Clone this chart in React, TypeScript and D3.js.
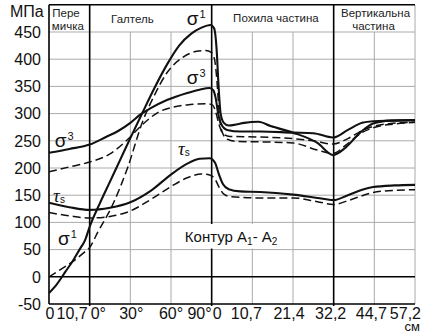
import React from "react";
import * as d3 from "d3";

const W = 425;
const H = 333;

// y axis
const yTickValues = [-50, 0, 50, 100, 150, 200, 250, 300, 350, 400, 450];
const gridYValues = [50, 100, 150, 200, 250, 300, 350, 400, 450];
// x axis: position along contour in grid units (0..9)
const sectionBounds = [1, 4, 7];
const minorGridPositions = [2, 3, 5, 6, 8, 9];
const xTickPositions = [0, 1, 1, 2, 3, 4, 4, 5, 6, 7, 8, 9];
const xTickLabels = ["0", "10,7", "0°", "30°", "60°", "90°", "0", "10,7", "21,4", "32,2", "44,7", "57,2"];
const xTickAnchors = ["middle", "end", "start", "middle", "middle", "end", "start", "middle", "middle", "middle", "middle", "end"];
const xTickShift = [1, -2, 1, 1, 0, 0, 1, -6, -4, -3, -3, 6];

// series [position, MPa]
const sigma1Solid: [number, number][] = [
  [0, -30], [0.2, -13], [0.4, 9], [0.6, 31], [0.75, 50], [0.89, 68], [1.0, 92], [1.25, 135], [1.5, 175],
  [1.75, 215], [2.0, 255], [2.3, 302], [2.6, 348], [2.9, 390], [3.2, 425], [3.5, 447], [3.75, 458],
  [3.97, 463], [4.06, 457], [4.12, 420], [4.17, 350], [4.22, 300], [4.3, 283], [4.42, 278], [4.6, 280],
  [4.8, 283], [5.15, 285], [5.45, 277], [6.0, 265], [6.6, 246], [6.98, 224], [7.3, 238], [7.65, 265],
  [7.97, 282], [8.4, 287], [9, 288],
];
const sigma1Dashed: [number, number][] = [
  [0, 0], [0.3, 14], [0.6, 29], [0.85, 44], [1.0, 54], [1.2, 82], [1.55, 130], [1.94, 202], [2.3, 285],
  [2.6, 335], [2.9, 375], [3.3, 404], [3.6, 414], [3.85, 416], [4.0, 412], [4.07, 400], [4.13, 360],
  [4.18, 305], [4.25, 268], [4.38, 253], [4.6, 249], [5.2, 248], [6.0, 246], [6.6, 233], [6.98, 227],
  [7.33, 244], [7.65, 263], [7.97, 274], [8.5, 281], [9, 284],
];
const sigma3Solid: [number, number][] = [
  [0, 228], [0.5, 235], [1.0, 243], [1.4, 257], [1.7, 268], [2.0, 283], [2.24, 298], [2.5, 310],
  [2.9, 325], [3.4, 338], [3.7, 344], [3.95, 347], [4.04, 343], [4.1, 328], [4.16, 300], [4.24, 280],
  [4.38, 270], [4.7, 267], [5.2, 267], [6.0, 265], [6.5, 264], [6.98, 256], [7.35, 270], [7.7, 283],
  [7.97, 286], [8.4, 287], [9, 288],
];
const sigma3Dashed: [number, number][] = [
  [0, 193], [0.5, 202], [1.0, 211], [1.5, 226], [1.9, 250], [2.3, 280], [2.7, 303], [3.0, 311],
  [3.4, 316], [3.9, 318], [4.02, 316], [4.1, 303], [4.18, 280], [4.28, 263], [4.45, 258], [5.2, 257],
  [6.0, 254], [6.5, 250], [6.98, 244], [7.35, 254], [7.65, 267], [8.0, 277], [8.4, 282], [9, 284],
];
const tauSolid: [number, number][] = [
  [0, 136], [0.5, 128], [1.0, 123], [1.5, 127], [2.0, 137], [2.5, 158], [3.0, 188], [3.4, 208],
  [3.7, 217], [3.95, 218], [4.08, 210], [4.18, 188], [4.28, 170], [4.42, 161], [4.7, 157], [5.2, 156],
  [6.0, 151], [6.6, 145], [7.0, 141], [7.35, 150], [7.7, 160], [7.97, 165], [8.5, 168], [9, 169],
];
const tauDashed: [number, number][] = [
  [0, 118], [0.5, 112], [1.0, 108], [1.5, 111], [2.0, 121], [2.5, 142], [3.0, 166], [3.4, 182],
  [3.75, 189], [3.95, 187], [4.08, 180], [4.18, 165], [4.3, 152], [4.48, 147], [5.2, 145], [6.0, 145],
  [6.6, 138], [7.0, 133], [7.35, 140], [7.97, 155], [8.5, 159], [9, 160],
];

// headers
const headerLines = [
  { text: "Пере", pos: 0.08, baseline: 17, anchor: "start" },
  { text: "мичка", pos: 0.07, baseline: 30, anchor: "start" },
  { text: "Галтель", pos: 2.05, baseline: 23, anchor: "middle" },
  { text: "Похила частина", pos: 5.58, baseline: 22, anchor: "middle" },
  { text: "Вертикальна", pos: 8.03, baseline: 17, anchor: "middle" },
  { text: "частина", pos: 7.98, baseline: 30, anchor: "middle" },
];

// curve annotations [position, MPa]
const sigmaLabels = [
  { pos: 3.39, val: 463, sup: "1" },
  { pos: 3.39, val: 354, sup: "3" },
  { pos: 0.14, val: 239, sup: "3" },
  { pos: 0.22, val: 59, sup: "1" },
];
const tauLabels = [
  { pos: 0.1, val: 138 },
  { pos: 3.17, val: 224 },
];

const FONT = "'Liberation Sans', Arial, Helvetica, sans-serif";

export default function App() {
  const x = d3.scaleLinear().domain([0, 9]).range([49, 415]);
  const y = d3.scaleLinear().domain([-50, 500]).range([304, 4.8]);
  const line = d3
    .line<[number, number]>()
    .x((d) => x(d[0]))
    .y((d) => y(d[1]))
    .curve(d3.curveMonotoneX);

  const series = [
    { d: sigma1Solid, dashed: false },
    { d: sigma3Solid, dashed: false },
    { d: tauSolid, dashed: false },
    { d: sigma1Dashed, dashed: true },
    { d: sigma3Dashed, dashed: true },
    { d: tauDashed, dashed: true },
  ];

  const grid = "#aaaaaa";
  const top = y(500);
  const bottom = y(-50);

  return (
    <svg
      width={W}
      height={H}
      style={{ position: "absolute", left: 0, top: 0, background: "#fff" }}
      fontFamily={FONT}
    >
      <rect x={0} y={0} width={W} height={H} fill="#fff" />
      {/* horizontal grid */}
      {gridYValues.map((v) => (
        <line key={"gy" + v} x1={x(0)} x2={x(9)} y1={y(v)} y2={y(v)} stroke={grid} strokeWidth={1} />
      ))}
      {/* minor vertical grid */}
      {minorGridPositions.map((p) => (
        <line key={"gx" + p} x1={x(p)} x2={x(p)} y1={p === 9 ? top : y(450)} y2={bottom} stroke={grid} strokeWidth={1} />
      ))}
      {/* zero line */}
      <line x1={x(0)} x2={x(9)} y1={y(0)} y2={y(0)} stroke="#000" strokeWidth={1.4} />
      {/* section boundaries */}
      {sectionBounds.map((p) => (
        <line key={"sb" + p} x1={x(p)} x2={x(p)} y1={top} y2={bottom + 2} stroke="#000" strokeWidth={1.6} />
      ))}
      {/* frame */}
      <line x1={x(0)} x2={x(0)} y1={top} y2={bottom} stroke="#000" strokeWidth={1.6} />
      <line x1={x(0)} x2={x(9)} y1={top} y2={top} stroke="#000" strokeWidth={1.4} />
      <line x1={x(0)} x2={x(9)} y1={bottom} y2={bottom} stroke="#000" strokeWidth={1.6} />

      {/* Контур label box */}
      <rect x={x(3.3)} y={y(97)} width={101} height={y(50) - y(97) - 1} fill="#fff" />
      <text x={x(3.34)} y={y(64)} fontSize={15} fill="#111">
        Контур А<tspan fontSize={10} dy={3}>1</tspan>
        <tspan dy={-3}>- А</tspan>
        <tspan fontSize={10} dy={3}>2</tspan>
      </text>

      {/* curves */}
      {series.map((s, i) => (
        <path
          key={"s" + i}
          d={line(s.d) || ""}
          fill="none"
          stroke="#111"
          strokeWidth={s.dashed ? 1.5 : 2.1}
          strokeDasharray={s.dashed ? "8,4" : undefined}
          strokeLinejoin="round"
        />
      ))}

      {/* annotations */}
      {sigmaLabels.map((l, i) => (
        <text key={"sl" + i} x={x(l.pos)} y={y(l.val)} fontSize={19} fill="#111">
          σ<tspan fontSize={11} dy={-7} dx={1}>{l.sup}</tspan>
        </text>
      ))}
      {tauLabels.map((l, i) => (
        <text key={"tl" + i} x={x(l.pos)} y={y(l.val)} fill="#111">
          <tspan fontFamily="'Liberation Serif', 'Times New Roman', serif" fontStyle="italic" fontSize={19}>τ</tspan>
          <tspan fontSize={10} dy={1}>s</tspan>
        </text>
      ))}

      {/* headers */}
      {headerLines.map((h, i) => (
        <text key={"h" + i} x={x(h.pos)} y={h.baseline} fontSize={11.5} textAnchor={h.anchor as any} fill="#222">
          {h.text}
        </text>
      ))}

      {/* y axis labels */}
      <text x={10} y={17} fontSize={16} fill="#111">МПа</text>
      {yTickValues.map((v) => (
        <text key={"yt" + v} x={41} y={y(v)} dy="0.36em" fontSize={16} textAnchor="end" fill="#111">
          {v}
        </text>
      ))}

      {/* x axis labels */}
      {xTickLabels.map((t, i) => (
        <text
          key={"xt" + i}
          x={x(xTickPositions[i]) + xTickShift[i]}
          y={319}
          fontSize={16}
          textAnchor={xTickAnchors[i] as any}
          fill="#111"
        >
          {t}
        </text>
      ))}
      <text x={420} y={331} fontSize={13} textAnchor="end" fill="#111">см</text>
    </svg>
  );
}
